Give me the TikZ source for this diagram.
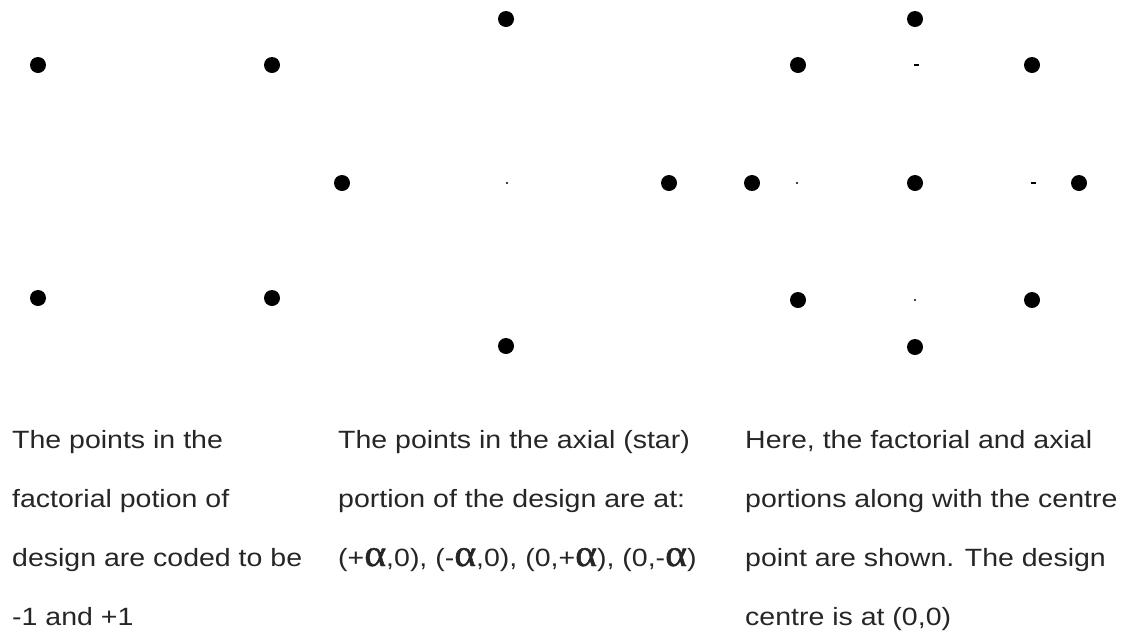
\documentclass[tikz,border=0pt]{standalone}
\usepackage{fontspec}
\setmainfont[FakeStretch=1.14]{Liberation Sans}
\newfontfamily\alphafont[FakeBold=1.2,FakeStretch=1.1]{Liberation Serif}
\newcommand{\alp}{{\alphafont\fontsize{38}{38}\selectfont α}}
\begin{document}
\begin{tikzpicture}[x=1pt,y=-1pt,
  dotpt/.style={circle,fill=black,inner sep=0pt,minimum size=16pt},
  speck/.style={circle,fill=black,inner sep=0pt,minimum size=2.4pt},
  dashmark/.style={rectangle,fill=black,inner sep=0pt,minimum width=5pt,minimum height=2.2pt},
  txt/.style={anchor=base west,inner sep=0pt,font=\fontsize{25}{25}\selectfont,text=black!85}]
\useasboundingbox (0,0) rectangle (1124,633);
% factorial panel
\node[dotpt] (fa) at (38,65) {};
\node[dotpt] (fb) at (272,65) {};
\node[dotpt] (fc) at (38,298) {};
\node[dotpt] (fd) at (272,298) {};
% axial panel
\node[dotpt] (at) at (506,19) {};
\node[dotpt] (al) at (342,183) {};
\node[dotpt] (ar) at (669,183) {};
\node[dotpt] (ab) at (506,346) {};
\node[speck] (ac) at (507,183) {};
% combined panel
\node[dotpt] (ct) at (915,19) {};
\node[dotpt] (cfa) at (798,65) {};
\node[dotpt] (cfb) at (1032,65) {};
\node[dotpt] (cl) at (752,183) {};
\node[dotpt] (cc) at (915,183) {};
\node[dotpt] (cr) at (1079,183) {};
\node[dotpt] (cfc) at (798,300) {};
\node[dotpt] (cfd) at (1032,300) {};
\node[dotpt] (cb) at (915,347) {};
\node[dashmark] (m1) at (916,65) {};
\node[speck] (m2) at (797,183) {};
\node[dashmark] (m3) at (1033,183) {};
\node[speck] (m4) at (915,300) {};
% captions
\node[txt] (t11) at (12,448) {The points in the};
\node[txt] (t12) at (12,507) {factorial potion of};
\node[txt] (t13) at (12,566) {design are coded to be};
\node[txt] (t14) at (12,625) {-1 and +1};
\node[txt] (t21) at (338,448) {The points in the axial (star)};
\node[txt] (t22) at (338,507) {portion of the design are at:};
\node[txt] (t23) at (338,566) {(+\alp,0), (-\alp,0), (0,+\alp), (0,-\alp)};
\node[txt] (t31) at (745,448) {Here, the factorial and axial};
\node[txt] (t32) at (745,507) {portions along with the centre};
\node[txt] (t33) at (745,566) {point are shown. The design};
\node[txt] (t34) at (745,625) {centre is at (0,0)};
\end{tikzpicture}
\end{document}
